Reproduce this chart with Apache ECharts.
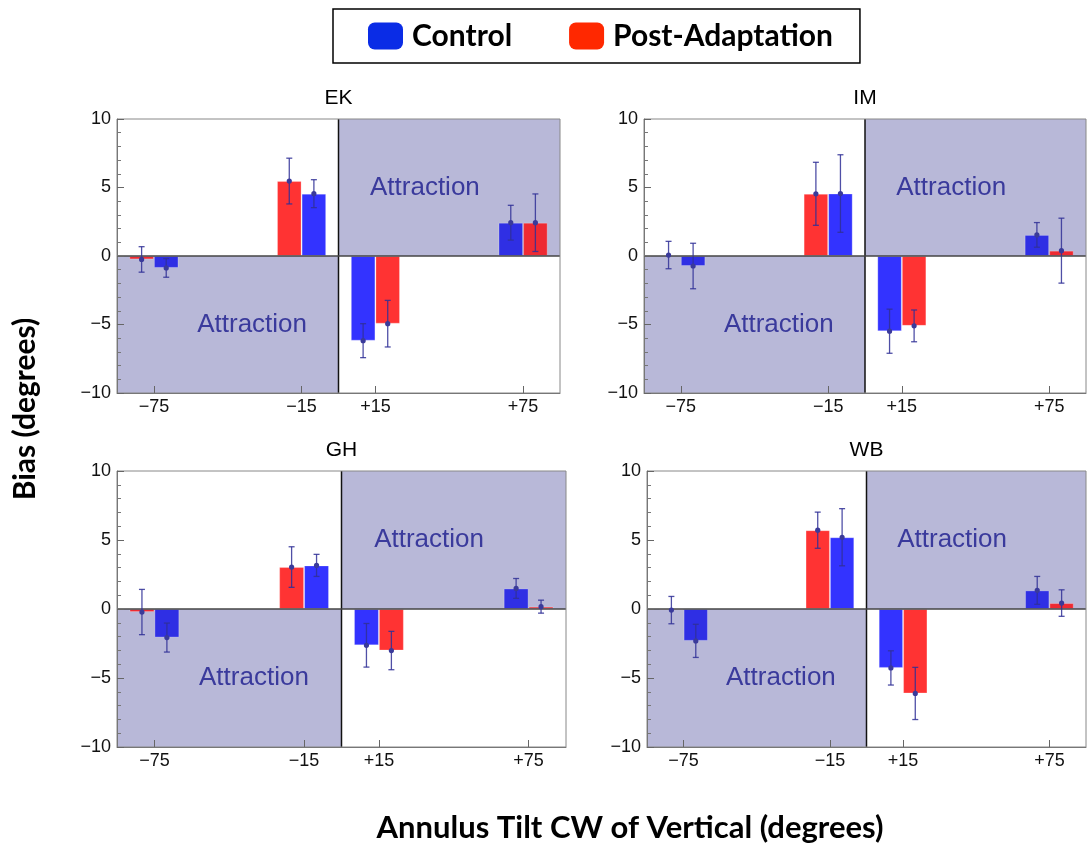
<!DOCTYPE html>
<html>
<head>
<meta charset="utf-8">
<script src="https://cdn.jsdelivr.net/npm/echarts@6/dist/echarts.min.js"></script>
<style>
html,body{margin:0;padding:0;background:#fff;}
#chart{width:1087px;height:843px;}
</style>
</head>
<body>
<div id="chart"></div>
<script>
// ---- Data ----
const categories = ['−75', '', '−15', '+15', '', '+75'];
const panelNames = ['EK', 'IM', 'GH', 'WB'];

const EK_control    = [-0.87, null, 4.55, -6.18, null, 2.43];
const EK_controlErr = [0.68, null, 1.02, 1.24, null, 1.27];
const EK_post       = [-0.25, null, 5.47, -4.94, null, 2.43];
const EK_postErr    = [0.93, null, 1.67, 1.70, null, 2.10];

const IM_control    = [-0.73, null, 4.56, -5.49, null, 1.54];
const IM_controlErr = [1.66, null, 2.83, 1.61, null, 0.90];
const IM_post       = [0.07, null, 4.54, -5.10, null, 0.39];
const IM_postErr    = [1.00, null, 2.30, 1.16, null, 2.37];

const GH_control    = [-2.07, null, 3.16, -2.63, null, 1.49];
const GH_controlErr = [1.05, null, 0.80, 1.58, null, 0.72];
const GH_post       = [-0.22, null, 3.04, -3.01, null, 0.17];
const GH_postErr    = [1.64, null, 1.47, 1.39, null, 0.47];

const WB_control    = [-2.31, null, 5.20, -4.27, null, 1.35];
const WB_controlErr = [1.20, null, 2.07, 1.24, null, 1.01];
const WB_post       = [-0.08, null, 5.71, -6.12, null, 0.43];
const WB_postErr    = [0.99, null, 1.31, 1.89, null, 0.96];

const yTicks = [-10, -5, 0, 5, 10];
const regionLabel = 'Attraction';
const seriesNames = ['Control', 'Post-Adaptation'];

const panels = [
  {name: panelNames[0], control: EK_control, controlErr: EK_controlErr, post: EK_post, postErr: EK_postErr},
  {name: panelNames[1], control: IM_control, controlErr: IM_controlErr, post: IM_post, postErr: IM_postErr},
  {name: panelNames[2], control: GH_control, controlErr: GH_controlErr, post: GH_post, postErr: GH_postErr},
  {name: panelNames[3], control: WB_control, controlErr: WB_controlErr, post: WB_post, postErr: WB_postErr}
];

// ---- Layout / style ----
const grids = [
  {left: 117, top: 119, width: 443, height: 274},
  {left: 644, top: 119, width: 442, height: 274},
  {left: 117, top: 471, width: 449, height: 276},
  {left: 647, top: 471, width: 439, height: 276}
];
const SHADE = '#b8b8d8';
const TXT_BLUE = '#3a3a9c';
const ERR = 'rgba(48,48,150,0.85)';
const COL = {
  control: {plain: '#3333ff', shade: '#2f2fe4'},
  post: {plain: '#ff3333', shade: '#ee2a32'}
};
const tickFont = 'Liberation Sans';
const yMin = yTicks[0], yMax = yTicks[yTicks.length - 1];

const isLeft = i => categories[i].startsWith('−');
// left quadrant shading for negative values, right quadrant shading for positive
const inShade = (i, v) => (isLeft(i) && v < 0) || (!isLeft(i) && v > 0);

function renderShade(params, api) {
  const w = api.size([1, 0])[0];
  const a = api.coord([api.value(0), api.value(3)]);
  const b = api.coord([api.value(1), api.value(2)]);
  const x0 = a[0] - w / 2, x1 = b[0] + w / 2, yTop = a[1], yBot = b[1];
  const leftSide = api.value(2) < 0;
  const divX = leftSide ? x1 : x0;
  const tx = leftSide ? divX - 1.17 * w : divX + 1.17 * w;
  const ty = api.coord([api.value(0), (api.value(2) + api.value(3)) / 2])[1];
  return {
    type: 'group',
    children: [
      {type: 'rect', shape: {x: x0, y: yTop, width: x1 - x0, height: yBot - yTop},
       style: {fill: SHADE}},
      {type: 'text', x: tx, y: ty,
       style: {text: regionLabel, fill: TXT_BLUE, fontSize: 26, fontFamily: tickFont,
               align: 'center', verticalAlign: 'middle'}},
      {type: 'line', shape: {x1: divX, y1: yTop, x2: divX, y2: yBot},
       style: {stroke: '#111', lineWidth: 1.5}}
    ]
  };
}

function renderErr(params, api) {
  const w = api.size([1, 0])[0];
  const off = api.value(4) === 0 ? -w / 6 : w / 6;
  const c = api.coord([api.value(0), api.value(1)]);
  const lo = api.coord([api.value(0), api.value(2)]);
  const hi = api.coord([api.value(0), api.value(3)]);
  const x = c[0] + off;
  const cap = 3;
  const st = {stroke: ERR, lineWidth: 1.3};
  return {
    type: 'group',
    children: [
      {type: 'line', shape: {x1: x, y1: hi[1], x2: x, y2: lo[1]}, style: st},
      {type: 'line', shape: {x1: x - cap, y1: hi[1], x2: x + cap, y2: hi[1]}, style: st},
      {type: 'line', shape: {x1: x - cap, y1: lo[1], x2: x + cap, y2: lo[1]}, style: st},
      {type: 'circle', shape: {cx: x, cy: c[1], r: 2.6}, style: {fill: '#3a3a9a'}}
    ]
  };
}

const option = {
  animation: false,
  backgroundColor: '#fff',
  grid: grids.map(g => Object.assign({}, g, {show: true, borderColor: '#888', borderWidth: 1, z: 5, backgroundColor: 'transparent'})),
  xAxis: grids.map((g, gi) => ({
    gridIndex: gi, type: 'category', data: categories, boundaryGap: true, z: 6,
    axisLine: {show: true, onZero: false, lineStyle: {color: '#777', width: 1}},
    axisTick: {show: true, inside: true, length: 7, alignWithLabel: true,
               interval: (i, v) => v !== '', lineStyle: {color: '#666'}},
    axisLabel: {interval: (i, v) => v !== '', margin: 5, fontSize: 18, fontFamily: tickFont, color: '#111'},
    splitLine: {show: false}
  })),
  yAxis: grids.map((g, gi) => ({
    gridIndex: gi, type: 'value', min: yMin, max: yMax, interval: 5, z: 6,
    axisLine: {show: true, onZero: false, lineStyle: {color: '#777', width: 1}},
    axisTick: {show: true, inside: true, length: 7, lineStyle: {color: '#666'}},
    minorTick: {show: true, splitNumber: 5, length: 4, lineStyle: {color: '#777'}},
    axisLabel: {margin: 6, fontSize: 18, fontFamily: tickFont, color: '#111',
                formatter: v => (v < 0 ? '−' + Math.abs(v) : String(v))},
    splitLine: {show: false}
  })),
  legend: {
    left: 333, top: 9, icon: 'roundRect', itemWidth: 35, itemHeight: 27, itemGap: 57,
    padding: [12, 27, 12, 35], borderColor: '#000', borderWidth: 1.5, selectedMode: false,
    textStyle: {fontFamily: 'Lato', fontWeight: 'bold', fontSize: 30, color: '#000', padding: [0, 0, 0, 4]},
    data: [
      {name: seriesNames[0], itemStyle: {color: '#0a2ce6'}},
      {name: seriesNames[1], itemStyle: {color: '#ff2800'}}
    ]
  },
  graphic: [],
  series: []
};

// legend-only series
option.series.push({type: 'line', name: seriesNames[0], xAxisIndex: 0, yAxisIndex: 0, data: [], color: '#0a2ce6'});
option.series.push({type: 'line', name: seriesNames[1], xAxisIndex: 0, yAxisIndex: 0, data: [], color: '#ff2800'});

panels.forEach((p, gi) => {
  const leftIdx = categories.findIndex((c, i) => c !== '' && isLeft(i));
  const lastLeft = categories.map((c, i) => (c !== '' && isLeft(i)) ? i : -1).reduce((a, b) => Math.max(a, b));
  const firstRight = categories.findIndex((c, i) => c !== '' && !isLeft(i));
  const lastIdx = categories.length - 1;
  // Attraction quadrants
  option.series.push({
    type: 'custom', xAxisIndex: gi, yAxisIndex: gi, z: 1, silent: true,
    encode: {x: [0, 1], y: [2, 3]},
    renderItem: renderShade,
    data: [[leftIdx, lastLeft, yMin, 0], [firstRight, lastIdx, 0, yMax]]
  });
  // slot 0 (left bar of pair) & slot 1 (right bar)
  const slot = s => categories.map((c, i) => {
    const useControl = isLeft(i) ? s === 1 : s === 0;
    const v = useControl ? p.control[i] : p.post[i];
    if (v === null || v === undefined) return '-';
    const key = useControl ? 'control' : 'post';
    return {value: v, itemStyle: {color: inShade(i, v) ? COL[key].shade : COL[key].plain}};
  });
  [0, 1].forEach(s => {
    const ser = {
      type: 'bar', xAxisIndex: gi, yAxisIndex: gi, z: 2, barWidth: '33.3%', barGap: '0%',
      name: 's' + s + '_' + p.name, data: slot(s), silent: true,
      itemStyle: {borderColor: 'rgba(255,255,255,0.25)', borderWidth: 1}
    };
    if (s === 1) {
      ser.markLine = {silent: true, symbol: 'none', z: 3, label: {show: false},
        lineStyle: {color: '#444', width: 1.5, type: 'solid'}, data: [{yAxis: 0}]};
    }
    option.series.push(ser);
  });
  // error bars
  const errData = [];
  categories.forEach((c, i) => {
    if (p.control[i] === null) return;
    const cs = isLeft(i) ? 1 : 0, ps = 1 - cs;
    errData.push([i, p.control[i], p.control[i] - p.controlErr[i], p.control[i] + p.controlErr[i], cs]);
    errData.push([i, p.post[i], p.post[i] - p.postErr[i], p.post[i] + p.postErr[i], ps]);
  });
  option.series.push({
    type: 'custom', xAxisIndex: gi, yAxisIndex: gi, z: 7, silent: true,
    encode: {x: 0, y: [1, 2, 3]}, renderItem: renderErr, data: errData
  });
  // panel title
  const g = grids[gi];
  option.graphic.push({type: 'text', x: g.left + g.width / 2, y: g.top - 21,
    style: {text: p.name, fontSize: 21, fontFamily: tickFont, fill: '#000', align: 'center', verticalAlign: 'middle'}});
});

option.graphic.push({type: 'text', x: 25, y: 409, rotation: Math.PI / 2,
  style: {text: 'Bias (degrees)', fontSize: 30, fontWeight: 'bold', fontFamily: 'Lato', fill: '#000',
          align: 'center', verticalAlign: 'middle'}});
option.graphic.push({type: 'text', x: 630, y: 828,
  style: {text: 'Annulus Tilt CW of Vertical (degrees)', fontSize: 31, fontWeight: 'bold', fontFamily: 'Lato', fill: '#000',
          align: 'center', verticalAlign: 'middle'}});

const chart = echarts.init(document.getElementById('chart'), null, {renderer: 'canvas'});
chart.setOption(option);
</script>
</body>
</html>
